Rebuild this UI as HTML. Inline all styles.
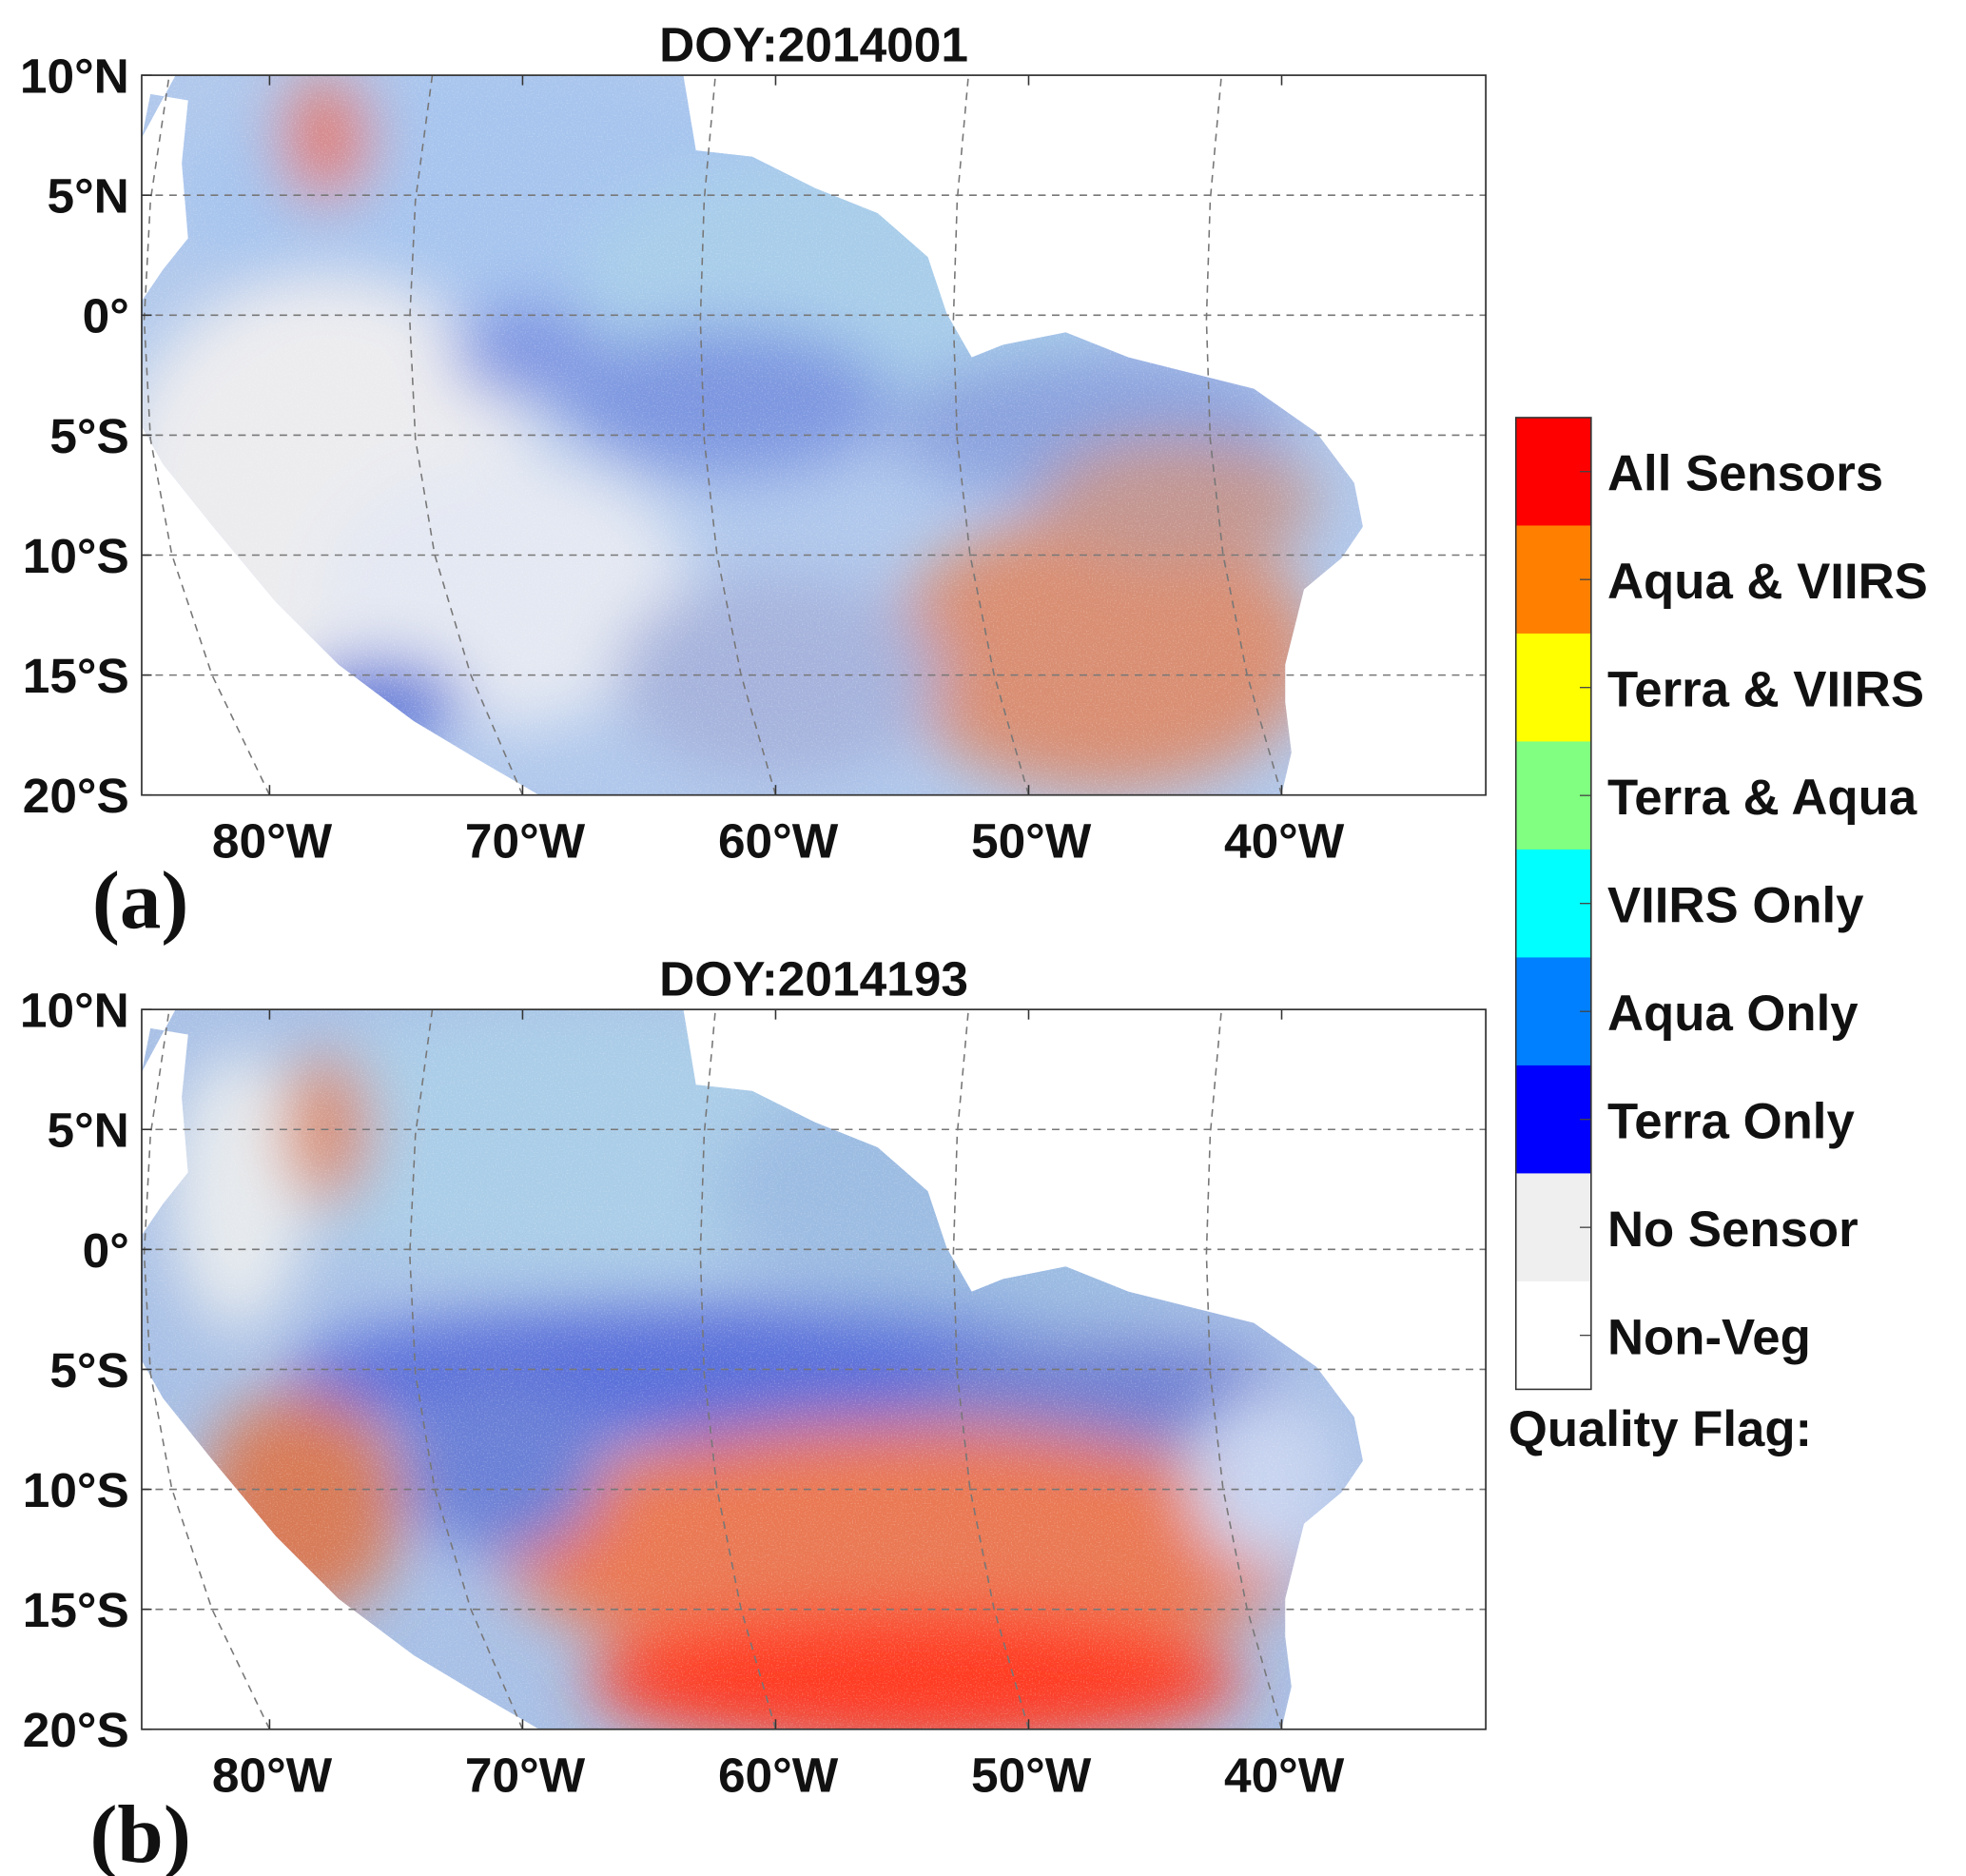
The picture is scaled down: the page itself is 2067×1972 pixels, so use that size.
<!DOCTYPE html>
<html><head><meta charset="utf-8"><style>
html,body{margin:0;padding:0;background:#fff;}
svg{display:block;}
text{font-family:"Liberation Sans",Arial,sans-serif;font-weight:bold;fill:#111;}
</style></head><body>
<svg id="fig" width="2067" height="1972" viewBox="0 0 1568 1496" preserveAspectRatio="none" xmlns="http://www.w3.org/2000/svg">
<defs>
<filter id="blurA" x="-20%" y="-20%" width="140%" height="140%"><feGaussianBlur stdDeviation="24"/></filter>
<filter id="noise" x="0" y="0" width="100%" height="100%">
<feTurbulence type="fractalNoise" baseFrequency="0.9" numOctaves="1" seed="4" result="t"/>
<feColorMatrix in="t" type="matrix" values="0 0 0 0 1  0 0 0 0 1  0 0 0 0 1  2.2 0 0 0 -1.1"/>
</filter>
<clipPath id="landA"><path d="M140,60 L545,60 L555,120 L600,125 L650,150 L700,170 L740,205 L755,250 L775,285 L800,275 L850,265 L900,285 L960,300 L1000,310 L1050,345 L1080,385 L1087,420 L1070,445 L1040,470 L1025,530 L1025,560 L1030,600 L1022,634 L430,634 L380,605 L330,575 L270,530 L220,480 L170,420 L130,370 L113,340 L113,240 L130,215 L150,190 L145,130 L150,80 L120,75 L113,110 Z"/></clipPath>
<clipPath id="landB"><path d="M140,805 L545,805 L555,865 L600,870 L650,895 L700,915 L740,950 L755,995 L775,1030 L800,1020 L850,1010 L900,1030 L960,1045 L1000,1055 L1050,1090 L1080,1130 L1087,1165 L1070,1190 L1040,1215 L1025,1275 L1025,1305 L1030,1345 L1022,1379 L430,1379 L380,1350 L330,1320 L270,1275 L220,1225 L170,1165 L130,1115 L113,1085 L113,985 L130,960 L150,935 L145,875 L150,825 L120,820 L113,855 Z"/></clipPath>
</defs>
<g id="panels"></g>
<g id="legend"></g>
</svg>
<script>
const latTicks=["10°N","5°N","0°","5°S","10°S","15°S","20°S"];
const latVals=[10,5,0,-5,-10,-15,-20];
const lonTicks=["80°W","70°W","60°W","50°W","40°W"];
const lonVals=[-80,-70,-60,-50,-40];
const flagLabels=["All Sensors","Aqua & VIIRS","Terra & VIIRS","Terra & Aqua","VIIRS Only","Aqua Only","Terra Only","No Sensor","Non-Veg"];
const flagColors=["#ff0000","#ff8000","#ffff00","#80ff80","#00ffff","#0080ff","#0000ff","#efefef","#ffffff"];
const titles=["DOY:2014001","DOY:2014193"];
const panelLetters=["(a)","(b)"];
const NS="http://www.w3.org/2000/svg";
const X0=113,X1=1185;
function yScale(lat,top){return top+(10-lat)/30*(574);}
function xScale(lon){return 215+(lon+80)/10*201.8;}
function mk(tag,attrs,parent){const e=document.createElementNS(NS,tag);for(const k in attrs)e.setAttribute(k,attrs[k]);parent.appendChild(e);return e;}
const merShape=[[0,574],[-46,478],[-78,382],[-95,290],[-100,195],[-95,100],[-80,0]];
const blobsA=[
 {cx:420,cy:160,rx:280,ry:110,c:"#a6c4ee"},{cx:680,cy:220,rx:220,ry:100,c:"#a8cdea"},
 {cx:260,cy:390,rx:170,ry:170,c:"#ececef"},{cx:400,cy:470,rx:150,ry:110,c:"#e4e8f2"},
 {cx:580,cy:320,rx:130,ry:60,c:"#7d96e0"},{cx:870,cy:340,rx:160,ry:60,c:"#8aa2de"},
 {cx:880,cy:520,rx:170,ry:110,c:"#d98e72"},{cx:940,cy:400,rx:110,ry:50,c:"#c39690"},
 {cx:620,cy:540,rx:130,ry:80,c:"#a6b2dc"},{cx:300,cy:560,rx:70,ry:35,c:"#6078d8"},
 {cx:260,cy:110,rx:35,ry:50,c:"#e07a6a"},{cx:420,cy:280,rx:60,ry:40,c:"#7f96e2"}];
const blobsB=[
 {cx:470,cy:910,rx:300,ry:110,c:"#aacde8"},{cx:800,cy:950,rx:230,ry:110,c:"#9cbce2"},
 {cx:190,cy:950,rx:55,ry:110,c:"#e6eaee"},{cx:560,cy:1095,rx:330,ry:55,c:"#5a70da"},
 {cx:880,cy:1110,rx:150,ry:45,c:"#7080d2"},{cx:720,cy:1235,rx:320,ry:100,c:"#ea7852"},
 {cx:730,cy:1340,rx:260,ry:55,c:"#ff3a20"},{cx:1010,cy:1180,rx:60,ry:70,c:"#c8d4f0"},
 {cx:240,cy:1200,rx:80,ry:90,c:"#d87a56"},{cx:400,cy:1170,rx:80,ry:70,c:"#6a80d6"},
 {cx:260,cy:900,rx:35,ry:60,c:"#d88a6a"}];
const panelsG=document.getElementById('panels');
[60,805].forEach((top,pi)=>{
  const g=mk('g',{},panelsG);
  
  
  const land=mk('g',{'clip-path':'url(#land'+(pi===0?'A':'B')+')'},g);
  
  
  mk('rect',{x:X0,y:top,width:1000,height:580,fill:pi===0?"#b0c8ec":"#a8c0e6"},land);
  const bl=mk('g',{filter:'url(#blurA)'},land);
  (pi===0?blobsA:blobsB).forEach(b=>mk('ellipse',{cx:b.cx,cy:b.cy,rx:b.rx,ry:b.ry,fill:b.c},bl));
  mk('rect',{x:X0,y:top,width:1000,height:580,filter:'url(#noise)',opacity:0.35},land);
  const grid=mk('g',{stroke:'#777','stroke-width':1.2,'stroke-dasharray':'6,5',fill:'none'},g);
  latVals.slice(1,-1).forEach(v=>{const y=yScale(v,top);const l=mk('line',{x1:X0,x2:X1,y1:y,y2:y},grid);});
  lonVals.forEach(v=>{const x=xScale(v);const pts=merShape.map(p=>(x+p[0]*(v<-75?1:(v<-65?0.9:0.6)))+','+(top+p[1])).join(' ');const l=mk('polyline',{points:pts},grid);});
  const box=mk('rect',{x:X0,y:top,width:X1-X0,height:574,fill:'none',stroke:'#333','stroke-width':1.3},g);
  
  latTicks.forEach((t,i)=>{const y=yScale(latVals[i],top);
    mk('line',{x1:X0,x2:X0+8,y1:y,y2:y,stroke:'#333','stroke-width':1.2},g);
    const tx=mk('text',{x:103,y:y+14,'text-anchor':'end','font-size':39},g);tx.textContent=t;
    });
  lonTicks.forEach((t,i)=>{const x=xScale(lonVals[i]);
    mk('line',{x1:x,x2:x,y1:top+574,y2:top+566,stroke:'#333','stroke-width':1.2},g);
    mk('line',{x1:x,x2:x,y1:top,y2:top+8,stroke:'#333','stroke-width':1.2},g);
    const tx=mk('text',{x:x+2,y:top+624,'text-anchor':'middle','font-size':39},g);tx.textContent=t;
    });
  const ti=mk('text',{x:649,y:top-11,'text-anchor':'middle','font-size':39},g);ti.textContent=titles[pi];
  
  const pl=mk('text',{x:112,y:top+680,'text-anchor':'middle','font-size':66,style:'font-family:"Liberation Serif",serif'},g);pl.textContent=panelLetters[pi];
  
});
const lg=document.getElementById('legend');


const cbTop=333,cbH=86.1,cbX=1209,cbW=60;
flagLabels.forEach((lab,i)=>{
  const r=mk('rect',{x:cbX,y:cbTop+i*cbH,width:cbW,height:cbH+0.5,fill:flagColors[i]},lg);
  
  mk('line',{x1:cbX+cbW-9,x2:cbX+cbW,y1:cbTop+(i+0.5)*cbH,y2:cbTop+(i+0.5)*cbH,stroke:'#444','stroke-width':1},lg);
  const t=mk('text',{x:1282,y:cbTop+(i+0.5)*cbH+15,'font-size':40},lg);t.textContent=lab;
  
});
mk('rect',{x:cbX,y:cbTop,width:cbW,height:cbH*flagLabels.length,fill:'none',stroke:'#333','stroke-width':1.2},lg);
const qt=mk('text',{x:1203,y:1153,'font-size':40},lg);qt.textContent="Quality Flag:";

</script>
</body></html>
